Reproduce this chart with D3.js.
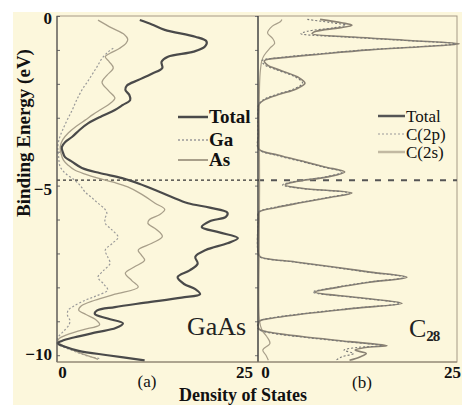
<!DOCTYPE html>
<html><head><meta charset="utf-8">
<script src="https://cdn.jsdelivr.net/npm/d3@7"></script>
<style>html,body{margin:0;padding:0;background:#fff}svg{display:block}</style>
</head><body>
<svg id="c" width="462" height="405"></svg>
<script>
// ---- data: [binding energy (eV), density of states] ----
const gaasTotal = [[-0.12,10.3],[-0.25,11.8],[-0.41,13.4],[-0.61,17.2],[-0.75,18.6],[-0.9,18.4],[-1.05,17.0],[-1.2,13.8],[-1.35,13.0],[-1.53,13.1],[-1.7,11.8],[-1.89,10.1],[-2.05,8.7],[-2.18,8.5],[-2.33,9.0],[-2.48,9.1],[-2.62,8.2],[-2.77,7.2],[-2.95,5.6],[-3.16,3.9],[-3.36,2.8],[-3.56,1.9],[-3.72,1.0],[-3.86,0.6],[-4.0,0.7],[-4.16,1.0],[-4.3,1.9],[-4.48,3.1],[-4.63,5.3],[-4.78,8.1],[-4.95,10.3],[-5.13,12.2],[-5.33,14.2],[-5.52,16.3],[-5.65,19.0],[-5.8,21.2],[-5.92,21.0],[-6.05,19.0],[-6.22,18.0],[-6.38,20.2],[-6.55,22.5],[-6.7,21.2],[-6.9,18.5],[-7.1,17.2],[-7.3,17.5],[-7.5,16.5],[-7.7,15.0],[-7.9,15.8],[-8.05,17.2],[-8.2,17.8],[-8.3,15.5],[-8.45,11.0],[-8.58,7.2],[-8.68,5.0],[-8.78,4.7],[-8.92,6.3],[-9.06,8.2],[-9.2,7.3],[-9.32,5.0],[-9.47,2.2],[-9.58,0.6],[-9.65,0.1],[-9.75,1.0],[-9.87,2.7],[-10.0,6.3],[-10.15,10.9]];
const gaasGa = [[-0.95,7.0],[-1.05,6.4],[-1.25,5.6],[-1.45,5.1],[-1.6,4.7],[-1.9,3.9],[-2.18,3.1],[-2.5,2.4],[-2.77,1.9],[-3.05,1.3],[-3.36,0.7],[-3.6,0.3],[-3.86,0.1],[-4.15,0.2],[-4.45,0.4],[-4.65,1.1],[-4.84,2.2],[-5.0,2.9],[-5.19,3.5],[-5.35,4.3],[-5.52,5.1],[-5.68,5.9],[-5.81,6.2],[-5.95,6.0],[-6.11,6.0],[-6.3,6.8],[-6.52,7.6],[-6.7,6.9],[-6.9,6.0],[-7.1,6.3],[-7.29,6.6],[-7.5,5.8],[-7.7,5.1],[-7.9,5.8],[-8.08,6.3],[-8.25,4.9],[-8.38,3.5],[-8.55,2.1],[-8.67,1.4],[-8.82,1.3],[-8.97,1.6],[-9.1,1.5],[-9.3,0.8],[-9.45,0.2],[-9.6,0.0],[-9.72,0.5],[-9.85,1.8],[-10.0,3.5],[-10.1,5.3]];
const gaasAs = [[-0.12,5.1],[-0.35,6.8],[-0.55,8.4],[-0.68,8.8],[-0.8,8.6],[-0.95,7.8],[-1.1,6.6],[-1.2,6.0],[-1.35,6.5],[-1.53,7.0],[-1.75,6.2],[-1.95,5.6],[-2.2,6.4],[-2.42,7.2],[-2.58,6.6],[-2.75,5.5],[-2.9,4.5],[-3.07,3.5],[-3.25,2.4],[-3.45,1.4],[-3.65,0.7],[-3.86,0.4],[-4.05,0.5],[-4.25,0.8],[-4.4,1.4],[-4.54,2.2],[-4.66,3.5],[-4.78,5.1],[-4.9,7.0],[-5.04,8.8],[-5.25,10.5],[-5.52,12.2],[-5.7,13.4],[-5.85,12.8],[-6.0,11.5],[-6.11,11.3],[-6.3,12.4],[-6.5,13.1],[-6.7,11.8],[-6.9,10.1],[-7.05,10.5],[-7.2,10.9],[-7.4,9.6],[-7.58,8.5],[-7.8,9.3],[-7.99,10.1],[-8.2,7.2],[-8.38,4.7],[-8.55,3.0],[-8.67,2.7],[-8.8,3.6],[-8.95,4.8],[-9.1,5.3],[-9.25,3.2],[-9.4,1.2],[-9.5,0.3],[-9.6,0.1],[-9.7,0.6],[-9.85,2.0],[-10.0,3.6],[-10.12,5.1]];

const c28Total = [[-0.1,7.8],[-0.2,10.5],[-0.27,11.8],[-0.35,10.2],[-0.45,7.3],[-0.52,6.8],[-0.62,12.0],[-0.72,19.0],[-0.82,25.3],[-0.9,21.0],[-1.0,14.0],[-1.12,8.0],[-1.22,3.5],[-1.32,0.8],[-1.45,1.2],[-1.6,2.8],[-1.8,5.0],[-1.98,5.9],[-2.15,4.8],[-2.3,2.8],[-2.45,1.0],[-2.6,0.15],[-2.8,0.05],[-3.5,0.05],[-3.92,0.1],[-4.1,2.5],[-4.3,5.9],[-4.45,8.4],[-4.6,10.9],[-4.75,8.6],[-4.88,4.8],[-4.98,3.4],[-5.08,5.5],[-5.22,11.8],[-5.35,9.0],[-5.5,5.5],[-5.65,2.2],[-5.78,0.15],[-6.0,0.05],[-7.0,0.05],[-7.1,0.3],[-7.25,4.7],[-7.4,9.5],[-7.55,14.1],[-7.7,18.7],[-7.85,14.0],[-8.0,10.0],[-8.14,7.2],[-8.3,12.5],[-8.47,18.1],[-8.62,12.0],[-8.78,5.8],[-8.92,1.5],[-9.0,0.2],[-9.22,0.1],[-9.3,1.0],[-9.45,5.5],[-9.6,11.5],[-9.72,16.2],[-9.77,13.5],[-9.85,12.2],[-9.95,13.6],[-10.05,12.8],[-10.15,11.5]];
const c28C2p = [[-0.1,6.2],[-0.2,9.3],[-0.27,11.0],[-0.35,9.4],[-0.45,6.2],[-0.52,5.4],[-0.62,11.0],[-0.72,18.4],[-0.82,24.8],[-0.9,20.5],[-1.0,13.5],[-1.12,7.4],[-1.22,3.0],[-1.32,0.5],[-1.45,0.9],[-1.6,2.5],[-1.8,4.7],[-1.98,5.6],[-2.15,4.5],[-2.3,2.5],[-2.45,0.8],[-2.6,0.1],[-2.8,0.0],[-3.5,0.0],[-3.92,0.05],[-4.1,2.2],[-4.3,5.6],[-4.45,8.1],[-4.6,10.6],[-4.75,8.3],[-4.88,4.5],[-4.98,3.1],[-5.08,5.2],[-5.22,11.5],[-5.35,8.7],[-5.5,5.2],[-5.65,1.9],[-5.78,0.1],[-6.0,0.0],[-7.0,0.0],[-7.1,0.2],[-7.25,4.4],[-7.4,9.2],[-7.55,13.8],[-7.7,18.4],[-7.85,13.7],[-8.0,9.7],[-8.14,6.9],[-8.3,12.2],[-8.47,17.8],[-8.62,11.7],[-8.78,5.5],[-8.92,1.2],[-9.0,0.1],[-9.22,0.0],[-9.3,0.7],[-9.45,5.0],[-9.6,11.0],[-9.72,15.6],[-9.77,12.5],[-9.85,10.8],[-9.95,12.0],[-10.05,10.5],[-10.15,9.8]];
const c28C2s = [[-0.1,3.0],[-0.17,2.8],[-0.3,1.8],[-0.5,1.2],[-0.65,1.8],[-0.8,2.1],[-0.95,1.5],[-1.15,0.8],[-1.3,0.5],[-1.6,0.3],[-2.0,0.2],[-3.0,0.15],[-5.0,0.2],[-7.0,0.15],[-9.0,0.2],[-9.26,0.5],[-9.45,1.1],[-9.65,1.5],[-9.85,0.6],[-10.0,1.0],[-10.15,1.3]];

const yTicks = [0, -5, -10];
const xTicks = [0, 25];
const fermiLevel = -4.84;
const legendA = ["Total", "Ga", "As"];
const legendB = ["Total", "C(2p)", "C(2s)"];
const panelLabels = ["(a)", "(b)"];

// ---- drawing ----
const svg = d3.select("#c");
const serif = "'Liberation Serif','Times New Roman',serif";
svg.append("rect").attr("x",13).attr("y",12).attr("width",449).attr("height",393).attr("fill","#fcf7dc");

const y = d3.scaleLinear().domain([0,-10.2]).range([16,362]);
const xa = d3.scaleLinear().domain([0,25]).range([57,258]);
const xb = d3.scaleLinear().domain([0,25]).range([258,457]);

const mkLine = x => d3.line().x(d=>x(d[1])).y(d=>y(d[0])).curve(d3.curveCatmullRom.alpha(0.5));

// frame
svg.append("rect").attr("x",57).attr("y",16).attr("width",400).attr("height",346)
  .attr("fill","none").attr("stroke","#a59a86").attr("stroke-width",1);

// minor ticks
const minor = d3.range(0,-10.01,-1);
svg.append("g").attr("transform","translate(57,0)")
  .call(d3.axisRight(y).tickValues(minor).tickSize(3).tickFormat(""))
  .call(g=>{g.select(".domain").remove(); g.selectAll("line").attr("stroke","#666");});
svg.append("g").attr("transform","translate(258,0)")
  .call(d3.axisLeft(y).tickValues(minor).tickSize(3).tickFormat(""))
  .call(g=>{g.select(".domain").remove(); g.selectAll("line").attr("stroke","#777");});

// dashed fermi line
svg.append("line").attr("x1",57).attr("x2",258).attr("y1",y(fermiLevel)).attr("y2",y(fermiLevel))
  .attr("stroke","#333").attr("stroke-width",1.2).attr("stroke-dasharray","3,3");
svg.append("line").attr("x1",258).attr("x2",457).attr("y1",y(fermiLevel)).attr("y2",y(fermiLevel))
  .attr("stroke","#555").attr("stroke-width",2).attr("stroke-dasharray","6,7");

// panel a curves
const la = mkLine(xa), lb = mkLine(xb);
svg.append("path").datum(gaasGa).attr("d",la).attr("fill","none").attr("stroke","#999").attr("stroke-width",1.2).attr("stroke-dasharray","2,2");
svg.append("path").datum(gaasAs).attr("d",la).attr("fill","none").attr("stroke","#a89f8a").attr("stroke-width",1.3);
svg.append("path").datum(gaasTotal).attr("d",la).attr("fill","none").attr("stroke","#4a4a4a").attr("stroke-width",2.2);

// panel b curves
svg.append("path").datum(c28C2s).attr("d",lb).attr("fill","none").attr("stroke","#a89f8a").attr("stroke-width",1.2);
svg.append("path").datum(c28Total).attr("d",lb).attr("fill","none").attr("stroke","#8a8274").attr("stroke-width",1.6);
svg.append("path").datum(c28C2p).attr("d",lb).attr("fill","none").attr("stroke","#777").attr("stroke-width",1.1).attr("stroke-dasharray","2,2");

// axes lines (left and middle)
svg.append("line").attr("x1",57).attr("x2",57).attr("y1",16).attr("y2",362).attr("stroke","#555").attr("stroke-width",1.2);
svg.append("line").attr("x1",258).attr("x2",258).attr("y1",16).attr("y2",362).attr("stroke","#444").attr("stroke-width",1.5);
svg.append("line").attr("x1",57).attr("x2",457).attr("y1",362).attr("y2",362).attr("stroke","#8a806e").attr("stroke-width",1);

// y tick labels
const yDy = {"0":7, "-5":9, "-10":4};
svg.append("g").attr("transform","translate(57,0)")
  .call(d3.axisLeft(y).tickValues(yTicks).tickSize(0).tickPadding(5).tickFormat(d3.format("d")))
  .call(g=>{g.select(".domain").remove();
    g.selectAll("text").attr("font-family",serif).attr("font-size",17).attr("font-weight","bold")
     .attr("fill","#111").attr("dy",null).attr("y",d=>yDy[String(d)]);});

// x tick labels
const xDxA = [5,-14], xDxB = [7,-5];
svg.append("g").attr("transform","translate(0,362)")
  .call(d3.axisBottom(xa).tickValues(xTicks).tickSize(0).tickPadding(4))
  .call(g=>{g.select(".domain").remove();
    g.selectAll("text").attr("font-family",serif).attr("font-size",17).attr("font-weight","bold")
     .attr("fill","#111").attr("dx",(d,i)=>xDxA[i]);});
svg.append("g").attr("transform","translate(0,362)")
  .call(d3.axisBottom(xb).tickValues(xTicks).tickSize(0).tickPadding(4))
  .call(g=>{g.select(".domain").remove();
    g.selectAll("text").attr("font-family",serif).attr("font-size",17).attr("font-weight","bold")
     .attr("fill","#111").attr("dx",(d,i)=>xDxB[i]);});

// panel labels
svg.append("text").attr("x",147).attr("y",387).attr("text-anchor","middle").attr("font-family",serif).attr("font-size",17).attr("fill","#111").text(panelLabels[0]);
svg.append("text").attr("x",362).attr("y",388).attr("text-anchor","middle").attr("font-family",serif).attr("font-size",17).attr("fill","#111").text(panelLabels[1]);

// axis titles
svg.append("text").attr("x",243).attr("y",401).attr("text-anchor","middle").attr("font-family",serif).attr("font-size",18).attr("font-weight","bold").attr("fill","#111").text("Density of States");
svg.append("text").attr("transform","translate(30,133) rotate(-90)").attr("text-anchor","middle").attr("font-family",serif).attr("font-size",19).attr("font-weight","bold").attr("fill","#111").text("Binding Energy (eV)");

// legend a
const legStyleA = [{s:"#4a4a4a",w:2.5,d:null},{s:"#999",w:1.4,d:"2,2"},{s:"#a89f8a",w:2,d:null}];
const legYA = [117,140,160];
legendA.forEach((t,i)=>{
  svg.append("line").attr("x1",178).attr("x2",208).attr("y1",legYA[i]).attr("y2",legYA[i])
    .attr("stroke",legStyleA[i].s).attr("stroke-width",legStyleA[i].w).attr("stroke-dasharray",legStyleA[i].d);
  svg.append("text").attr("x",209).attr("y",legYA[i]+6).attr("font-family",serif).attr("font-size",19)
    .attr("font-weight","bold").attr("fill","#111").text(t);
});
// legend b
const legStyleB = [{s:"#555",w:2.5,d:null},{s:"#999",w:1.2,d:"2,2"},{s:"#c2b9a2",w:2.5,d:null}];
const legYB = [116,134,152];
legendB.forEach((t,i)=>{
  svg.append("line").attr("x1",378).attr("x2",405).attr("y1",legYB[i]).attr("y2",legYB[i])
    .attr("stroke",legStyleB[i].s).attr("stroke-width",legStyleB[i].w).attr("stroke-dasharray",legStyleB[i].d);
  svg.append("text").attr("x",406).attr("y",legYB[i]+6).attr("font-family",serif).attr("font-size",17)
    .attr("fill","#111").text(t);
});

// material labels
svg.append("text").attr("x",187).attr("y",335).attr("font-family",serif).attr("font-size",26).attr("fill","#222").text("GaAs");
const ct = svg.append("text").attr("x",409).attr("y",337).attr("font-family",serif).attr("font-size",26).attr("fill","#222");
ct.append("tspan").text("C");
ct.append("tspan").attr("dy",4).attr("font-size",15).attr("font-weight","bold").attr("letter-spacing",-1).text("28");
</script>
</body></html>
